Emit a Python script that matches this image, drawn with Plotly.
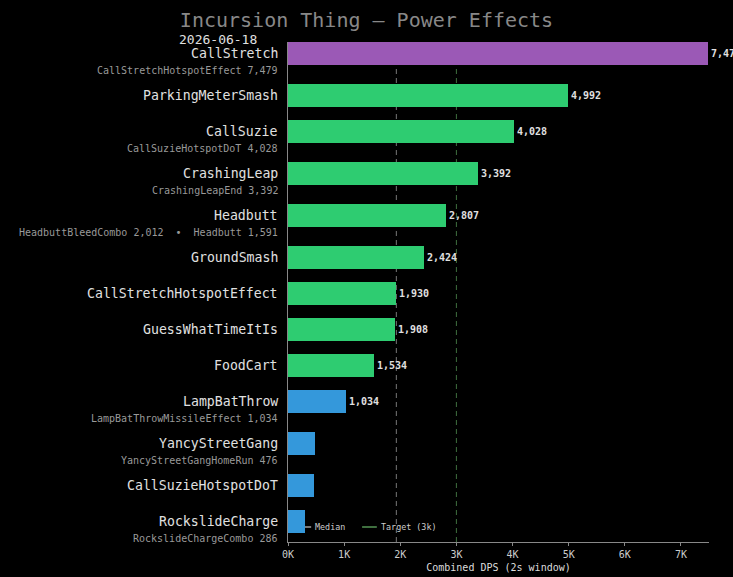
import plotly.graph_objects as go

# ---- data ----
names = ["CallStretch", "ParkingMeterSmash", "CallSuzie", "CrashingLeap", "Headbutt",
         "GroundSmash", "CallStretchHotspotEffect", "GuessWhatTimeItIs", "FoodCart",
         "LampBatThrow", "YancyStreetGang", "CallSuzieHotspotDoT", "RockslideCharge"]
dps = [7479, 4992, 4028, 3392, 2807, 2424, 1930, 1908, 1534, 1034, 482, 463, 302]
subtexts = ["CallStretchHotspotEffect 7,479", "", "CallSuzieHotspotDoT 4,028",
            "CrashingLeapEnd 3,392", "HeadbuttBleedCombo 2,012  \u2022  Headbutt 1,591",
            "", "", "", "", "LampBatThrowMissileEffect 1,034",
            "YancyStreetGangHomeRun 476", "", "RockslideChargeCombo 286"]
tiers = ["top", "high", "high", "high", "high", "high", "high", "high", "high",
         "low", "low", "low", "low"]
median_dps = 1930
target_dps = 3000
ref_names = ["Median", "Target (3k)"]
tick_vals = [0, 1000, 2000, 3000, 4000, 5000, 6000, 7000]
tick_text = ["0K", "1K", "2K", "3K", "4K", "5K", "6K", "7K"]

tier_colors = {"top": "#9b59b6", "high": "#2ecc71", "low": "#3498db"}
MED_COL = "#777777"
TGT_COL = "#3f6f3f"
FONT = "DejaVu Sans Mono"

# row positions: rows with a sub-line get a little extra room below
pos = []
p = 0.0
for i, s in enumerate(subtexts):
    pos.append(p)
    p += 1.0 + (1 / 6 if s else 0.0)

labels = [f"{v:,}" if v >= 1000 else "" for v in dps]

fig = go.Figure()
fig.add_trace(go.Bar(
    x=dps, y=pos, orientation="h", width=0.64,
    marker=dict(color=[tier_colors[t] for t in tiers], line=dict(width=0)),
    text=labels, textposition="outside", cliponaxis=False,
    textfont=dict(family=FONT, size=10, color="#e0e0e0", weight="bold"),
    showlegend=False, hoverinfo="x+y",
))

fig.add_shape(type="line", xref="x", yref="paper", x0=median_dps, x1=median_dps, y0=0, y1=1,
              line=dict(color=MED_COL, width=1, dash="5px,4px"), layer="below")
fig.add_shape(type="line", xref="x", yref="paper", x0=target_dps, x1=target_dps, y0=0, y1=1,
              line=dict(color=TGT_COL, width=1, dash="5px,4px"), layer="below")

# compact legend (short swatches)
leg_y = 0.03
for (sx0, sx1, tx), nm, col in zip([(0.019, 0.055, 0.0595), (0.176, 0.211, 0.2155)],
                                   ref_names, [MED_COL, TGT_COL]):
    fig.add_shape(type="line", xref="paper", yref="paper", x0=sx0, x1=sx1, y0=leg_y, y1=leg_y,
                  line=dict(color=col, width=2), layer="below")
    fig.add_annotation(x=tx, xref="paper", y=leg_y, yref="paper", text=nm, showarrow=False,
                       xanchor="left", yanchor="middle",
                       font=dict(family=FONT, size=8.4, color="#cccccc"))

for n, s, y in zip(names, subtexts, pos):
    fig.add_annotation(x=0, xref="paper", y=y, yref="y", text=n, showarrow=False,
                       xanchor="right", yanchor="middle", xshift=-8,
                       font=dict(family=FONT, size=13.2, color="#e0e0e0"))
    if s:
        fig.add_annotation(x=0, xref="paper", y=y, yref="y", text=s, showarrow=False,
                           xanchor="right", yanchor="middle", xshift=-8, yshift=-17,
                           font=dict(family=FONT, size=10, color="#999999"))

fig.add_annotation(x=-0.2565, xref="paper", y=1.008, yref="paper", text="2026-06-18",
                   showarrow=False, xanchor="left", yanchor="middle", xshift=-3, yshift=-1,
                   font=dict(family=FONT, size=13, color="#e0e0e0"))

fig.update_layout(
    width=733, height=577,
    paper_bgcolor="#000000", plot_bgcolor="#000000",
    margin=dict(l=288, r=24, t=42, b=35),
    title=dict(text="Incursion Thing \u2014 Power Effects", x=0.5, xanchor="center",
               y=1 - 20 / 577, yanchor="middle", yref="container",
               font=dict(family=FONT, size=20, color="#888888")),
    font=dict(family=FONT, color="#dddddd"),
    xaxis=dict(range=[0, 7500], tickvals=tick_vals, ticktext=tick_text, automargin=False,
               showgrid=False, zeroline=False, showline=True, linecolor="#888888",
               linewidth=1, ticks="outside", ticklen=3, tickcolor="#888888",
               tickfont=dict(family=FONT, size=10, color="#cccccc"),
               title=dict(text="Combined DPS (2s window)", standoff=4,
                          font=dict(family=FONT, size=10, color="#dddddd"))),
    yaxis=dict(range=[13.575, -0.319], showticklabels=False, showgrid=False, automargin=False,
               zeroline=False, showline=True, linecolor="#888888", linewidth=1, ticks=""),
    showlegend=False,
    bargap=0,
)

fig.write_html("out.html")
